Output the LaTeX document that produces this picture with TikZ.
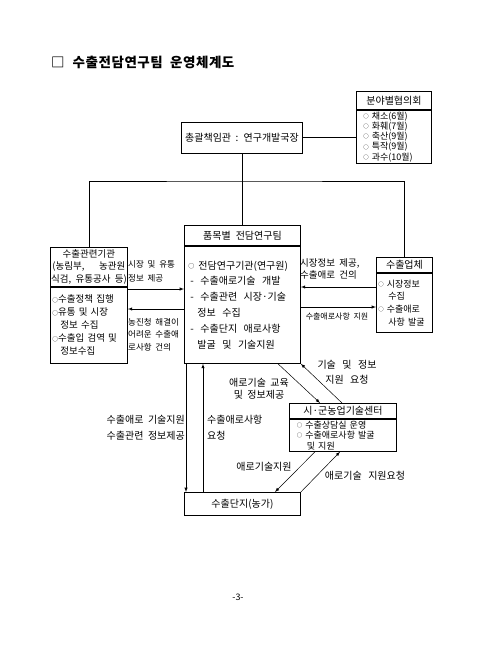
\documentclass[tikz,border=0pt]{standalone}
\usepackage{fontspec}
\setmainfont{Noto Sans CJK KR}[WordSpace=2]
\usetikzlibrary{positioning, arrows}
\newcommand{\bul}{\raisebox{0.8pt}{\scalebox{0.6}{○}}}
\newcommand{\wsp}{\hspace{6.5pt}}

\begin{document}
\begin{tikzpicture}[x=1pt, y=-1pt,
  box/.style={draw, line width=0.9pt, inner sep=0pt, anchor=north west},
  hd/.style={box, font=\fontsize{10}{12}\selectfont},
  bd/.style={box, align=left, font=\fontsize{9.5}{13}\selectfont},
  lbl/.style={inner sep=0pt, font=\fontsize{10}{12}\selectfont},
  line/.style={line width=0.5pt},
  arr/.style={->, >=latex, line width=0.5pt}]
  \path[use as bounding box, fill=white] (0,0) rectangle (480,657);

  \node[anchor=west, inner sep=0pt, font=\fontsize{13.5}{15}\selectfont\bfseries\addfontfeature{LetterSpace=4}] (title) at (51,62) {□\hspace{8pt}수출전담연구팀 운영체계도};

  \node[box, anchor=center, minimum width=121pt, minimum height=31pt, font=\fontsize{10}{12}\selectfont] (top) at (242,137.5) {총괄책임관 : 연구개발국장};

  \node[hd, minimum width=75pt, minimum height=18pt] (counh) at (356,91) {분야별협의회};
  \node[bd, minimum width=75pt, minimum height=53pt, text width=61pt, font=\fontsize{9}{10.2}\selectfont] (counb) at (counh.south west) {\bul{}~채소(6월)\\\bul{}~화훼(7월)\\\bul{}~축산(9월)\\\bul{}~특작(9월)\\\bul{}~과수(10월)};

  % boxes on the middle row
  \node[hd, minimum width=77pt, minimum height=39pt, align=center, font=\fontsize{9.5}{12.5}\selectfont] (relh) at (50,247) {수출관련기관\\\makebox[73pt]{(농림부,\hfill 농관원}\\식검,~유통공사~등)};
  \node[bd, minimum width=77pt, minimum height=76pt, text width=73pt] (relb) at (relh.south west) {\bul{}수출정책~집행\\\bul{}유통~및~시장\\\hspace{8pt}정보~수집\\\bul{}수출입~검역~및\\\hspace{8pt}정보수집};

  \node[hd, minimum width=116pt, minimum height=20pt] (teamh) at (184,225) {품목별\hspace{5pt}전담연구팀};
  \node[bd, minimum width=116pt, minimum height=117pt, text width=108pt, font=\fontsize{10}{15.8}\selectfont] (teamb) at (teamh.south west) {\bul{}\hspace{4pt}전담연구기관(연구원)\\\hspace{2pt}-\wsp{}수출애로기술\wsp{}개발\\\hspace{2pt}-\wsp{}수출관련\wsp{}시장·기술\\\hspace{9pt}정보\wsp{}수집\\\hspace{2pt}-\wsp{}수출단지\wsp{}애로사항\\\hspace{9pt}발굴\wsp{}및\wsp{}기술지원};

  \node[hd, minimum width=56pt, minimum height=15pt] (firmh) at (376,257) {수출업체};
  \node[bd, minimum width=56pt, minimum height=59pt, text width=52pt, font=\fontsize{9}{12.7}\selectfont] (firmb) at (firmh.south west) {\bul{}~시장정보\\\hspace{10pt}수집\\\bul{}~수출애로\\\hspace{10pt}사항~발굴};

  \node[hd, minimum width=107pt, minimum height=15pt] (cenh) at (289,403) {시·군농업기술센터};
  \node[bd, minimum width=107pt, minimum height=32pt, text width=92pt, font=\fontsize{9}{10.5}\selectfont] (cenb) at (cenh.south west) {\bul{}~수출상담실~운영\\\bul{}~수출애로사항~발굴\\\hspace{10pt}및~지원};

  \node[hd, minimum width=116pt, minimum height=23pt] (farm) at (184,492) {수출단지(농가)};

  % tree lines
  \coordinate (bus) at (242,181);
  \draw[line] (top.east) -- (top.east -| counb.west);
  \draw[line] (top.south) -- (top.south |- teamh.north);
  \draw[line] (relh.north) |- (bus) -| (firmh.north);

  % arrows
  \draw[arr] (relh.east |- 0,289) -- (teamb.west |- 0,289);
  \draw[arr] (teamb.west |- 0,309) -- (relb.east |- 0,309);
  \draw[arr] (firmb.west |- 0,287) -- (teamb.east |- 0,287);
  \draw[arr] (teamb.east |- 0,307) -- (firmb.west |- 0,307);
  \draw[arr] (teamb.south -| 186,0) -- (farm.north -| 186,0);
  \draw[arr] (farm.north -| 203,0) -- (teamb.south -| 203,0);
  \draw[arr] (teamb.south -| 278,0) -- (cenh.north -| 320,0);
  \draw[arr] (cenh.north -| 342,0) -- (teamb.south east);
  \draw[arr] (cenb.south -| 315,0) -- (farm.north -| 275,0);
  \draw[arr] (farm.north east) -- (cenb.south -| 340,0);

  \node[lbl, anchor=west, align=left, font=\fontsize{8.5}{14}\selectfont] (l1) at (128,271.5) {시장 및 유통\\정보 제공};
  \node[lbl, anchor=west, align=left, font=\fontsize{8.5}{12.5}\selectfont] (l2) at (128,334.5) {농진청 해결이\\어려운 수출애\\로사항 건의};
  \node[lbl, anchor=west, align=left, font=\fontsize{9.5}{12}\selectfont] (l3) at (300,269) {시장정보 제공,\\수출애로 건의};
  \node[lbl, font=\fontsize{8}{10}\selectfont] (l4) at (337,316) {수출애로사항 지원};
  \node[lbl, anchor=east, align=right, font=\fontsize{10}{16}\selectfont] (l5) at (185,428) {수출애로 기술지원\\수출관련 정보제공};
  \node[lbl, anchor=west, align=left, font=\fontsize{10}{16}\selectfont] (l6) at (207,428) {수출애로사항\\요청};
  \node[lbl, align=center] (l7) at (259,389) {애로기술 교육\\및 정보제공};
  \node[lbl, align=center, font=\fontsize{10}{15}\selectfont] (l8) at (347,372) {기술\wsp{}및\wsp{}정보\\지원\wsp{}요청};
  \node[lbl] (l9) at (264,467) {애로기술지원};
  \node[lbl] (l10) at (365,476) {애로기술\wsp{}지원요청};
  \node[lbl, font=\fontsize{9}{12}\selectfont] (page) at (238,597) {-3-};
\end{tikzpicture}
\end{document}
